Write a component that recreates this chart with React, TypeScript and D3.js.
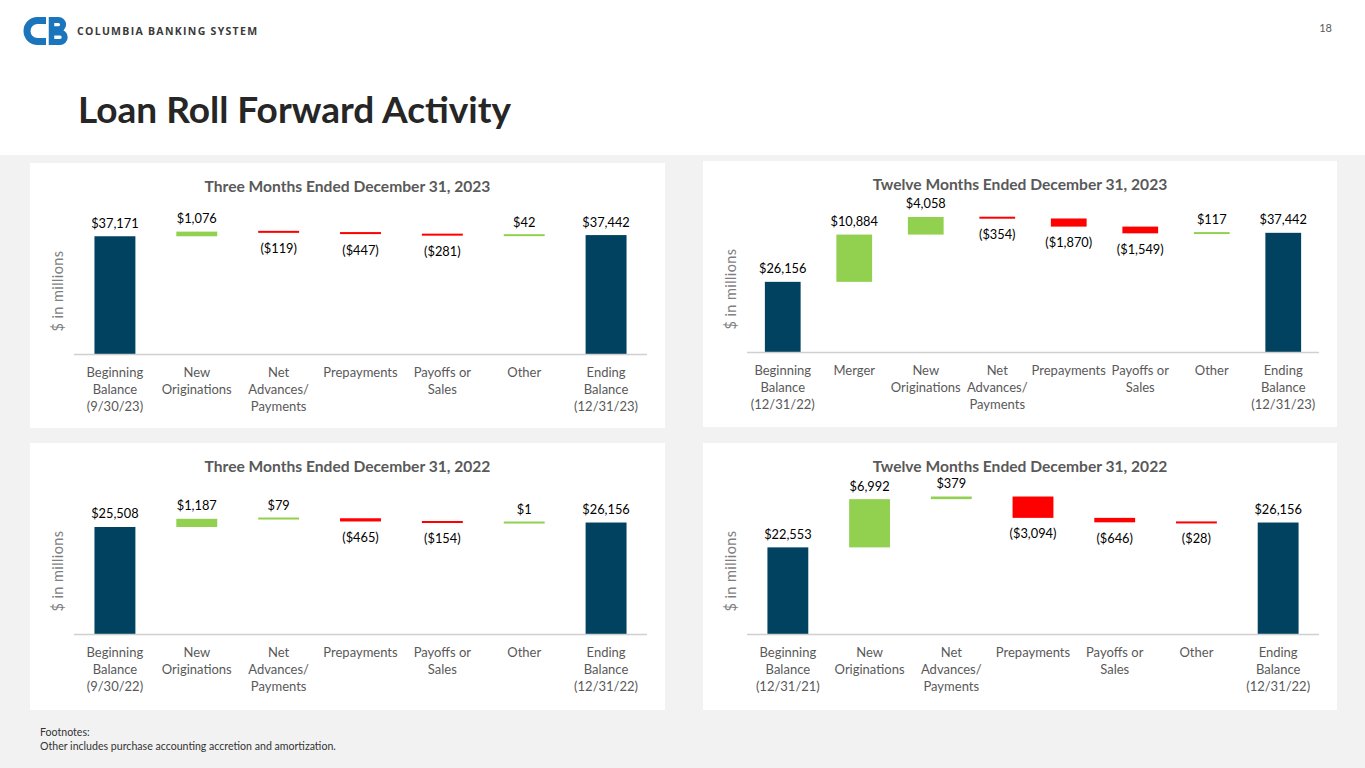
import React, { useEffect, useRef } from 'react';
import * as d3 from 'd3';

// ---- data (in $ millions) ----
const catsQ4_2023 = [
  ['Beginning', 'Balance', '(9/30/23)'],
  ['New', 'Originations'],
  ['Net', 'Advances/', 'Payments'],
  ['Prepayments'],
  ['Payoffs or', 'Sales'],
  ['Other'],
  ['Ending', 'Balance', '(12/31/23)'],
];
const valsQ4_2023 = [37171, 1076, -119, -447, -281, 42, 37442];

const catsFY_2023 = [
  ['Beginning', 'Balance', '(12/31/22)'],
  ['Merger'],
  ['New', 'Originations'],
  ['Net', 'Advances/', 'Payments'],
  ['Prepayments'],
  ['Payoffs or', 'Sales'],
  ['Other'],
  ['Ending', 'Balance', '(12/31/23)'],
];
const valsFY_2023 = [26156, 10884, 4058, -354, -1870, -1549, 117, 37442];

const catsQ4_2022 = [
  ['Beginning', 'Balance', '(9/30/22)'],
  ['New', 'Originations'],
  ['Net', 'Advances/', 'Payments'],
  ['Prepayments'],
  ['Payoffs or', 'Sales'],
  ['Other'],
  ['Ending', 'Balance', '(12/31/22)'],
];
const valsQ4_2022 = [25508, 1187, 79, -465, -154, 1, 26156];

const catsFY_2022 = [
  ['Beginning', 'Balance', '(12/31/21)'],
  ['New', 'Originations'],
  ['Net', 'Advances/', 'Payments'],
  ['Prepayments'],
  ['Payoffs or', 'Sales'],
  ['Other'],
  ['Ending', 'Balance', '(12/31/22)'],
];
const valsFY_2022 = [22553, 6992, 379, -3094, -646, -28, 26156];

const titles = [
  'Three Months Ended December 31, 2023',
  'Twelve Months Ended December 31, 2023',
  'Three Months Ended December 31, 2022',
  'Twelve Months Ended December 31, 2022',
];
const axisMin = [10000, 10000, 10000, 10000];
const axisMax = [40000, 45000, 30000, 30000];

// ---- layout ----
const FONT = 'Lato, "Open Sans", sans-serif';
const NAVY = '#00425f';
const GREEN = '#92d050';
const RED = '#ff0000';
const BLUE = '#1a75bc';

const panels = [
  { x: 30, y: 163, w: 635, h: 265, base: 354, top: 224, titleY: 187 },
  { x: 703, y: 161, w: 634, h: 266, base: 352, top: 200, titleY: 185 },
  { x: 30, y: 443, w: 635, h: 267, base: 634, top: 496, titleY: 467 },
  { x: 703, y: 443, w: 634, h: 267, base: 634, top: 496, titleY: 467 },
];

const charts = [
  { cats: catsQ4_2023, vals: valsQ4_2023 },
  { cats: catsFY_2023, vals: valsFY_2023 },
  { cats: catsQ4_2022, vals: valsQ4_2022 },
  { cats: catsFY_2022, vals: valsFY_2022 },
];

const fmt = d3.format(',');
const money = (v: number) => (v < 0 ? `($${fmt(-v)})` : `$${fmt(v)}`);

export default function App() {
  const svgRef = useRef<SVGSVGElement>(null);

  useEffect(() => {
    document.body.style.margin = '0';
    if (!svgRef.current) return;
    const svg = d3.select(svgRef.current);
    svg.selectAll('*').remove();

    // page backgrounds
    svg.append('rect').attr('width', 1365).attr('height', 768).attr('fill', '#f2f2f2');
    svg.append('rect').attr('width', 1365).attr('height', 155).attr('fill', '#ffffff');

    // logo: C + B marks
    const logo = svg.append('g').attr('fill', 'none').attr('stroke', BLUE);
    logo.append('path')
      .attr('d', 'M46,20.5 H37.5 A10.5,10.5 0 0 0 37.5,41.5 H46')
      .attr('stroke-width', 7);
    logo.append('path')
      .attr('d', 'M51.5,17 V45')
      .attr('stroke-width', 5.5);
    logo.append('path')
      .attr('d', 'M51,20 H58.5 A4.6,4.6 0 0 1 58.5,29.2 H51 M51,32.6 H60 A4.7,4.7 0 0 1 60,42 H51')
      .attr('stroke-width', 6);
    svg.append('text')
      .attr('x', 77).attr('y', 35)
      .attr('font-family', '"Open Sans", sans-serif')
      .attr('font-weight', 700).attr('font-size', 10.5)
      .attr('letter-spacing', 1.3)
      .attr('fill', '#3a3a3a')
      .text('COLUMBIA BANKING SYSTEM');

    svg.append('text')
      .attr('x', 1332).attr('y', 32).attr('text-anchor', 'end')
      .attr('font-family', FONT).attr('font-size', 11).attr('fill', '#595959')
      .text('18');

    svg.append('text')
      .attr('x', 78).attr('y', 123)
      .attr('font-family', FONT).attr('font-weight', 700).attr('font-size', 37)
      .attr('fill', '#262626')
      .text('Loan Roll Forward Activity');

    charts.forEach((c, i) => {
      const p = panels[i];
      const g = svg.append('g');
      g.append('rect').attr('x', p.x).attr('y', p.y).attr('width', p.w).attr('height', p.h).attr('fill', '#ffffff');

      g.append('text')
        .attr('x', p.x + p.w / 2).attr('y', p.titleY).attr('dy', '0.35em')
        .attr('text-anchor', 'middle')
        .attr('font-family', FONT).attr('font-weight', 700).attr('font-size', 15.6)
        .attr('fill', '#595959')
        .text(titles[i]);

      const x = d3.scaleBand<number>()
        .domain(d3.range(c.vals.length))
        .range([p.x + 44, p.x + p.w - 18])
        .paddingInner(0.5)
        .paddingOuter(0.25);
      const y = d3.scaleLinear().domain([axisMin[i], axisMax[i]]).range([p.base, p.top]);

      // y axis title
      g.append('text')
        .attr('transform', `translate(${p.x + 28},${p.y + 128}) rotate(-90)`)
        .attr('text-anchor', 'middle').attr('dy', '0.35em')
        .attr('font-family', FONT).attr('font-size', 14.5).attr('letter-spacing', 0.4)
        .attr('fill', '#7f7f7f')
        .text('$ in millions');

      // waterfall segments
      let run = 0;
      const n = c.vals.length;
      const segs = c.vals.map((v, k) => {
        let s: number, e: number, color: string;
        if (k === 0 || k === n - 1) {
          s = axisMin[i]; e = v; color = NAVY; run = v;
        } else {
          s = run; e = run + v; run = e; color = v >= 0 ? GREEN : RED;
        }
        return { k, v, s, e, color };
      });

      g.selectAll('rect.bar')
        .data(segs)
        .join('rect')
        .attr('class', 'bar')
        .attr('x', d => x(d.k)!)
        .attr('width', x.bandwidth())
        .attr('y', d => {
          const top = y(Math.max(d.s, d.e));
          const hgt = Math.abs(y(d.s) - y(d.e));
          return hgt < 2 ? (y(d.s) + y(d.e)) / 2 - 1 : top;
        })
        .attr('height', d => Math.max(2, Math.abs(y(d.s) - y(d.e))))
        .attr('fill', d => d.color);

      g.selectAll('text.val')
        .data(segs)
        .join('text')
        .attr('class', 'val')
        .attr('x', d => x(d.k)! + x.bandwidth() / 2)
        .attr('y', d => (d.v < 0 ? y(Math.min(d.s, d.e)) + 16 : y(Math.max(d.s, d.e)) - 13))
        .attr('dy', '0.35em')
        .attr('text-anchor', 'middle')
        .attr('font-family', FONT).attr('font-size', 12.8).attr('fill', '#000000')
        .text(d => money(d.v));

      // baseline
      g.append('line')
        .attr('x1', x.range()[0]).attr('x2', x.range()[1])
        .attr('y1', p.base + 0.5).attr('y2', p.base + 0.5)
        .attr('stroke', '#d0d0d0').attr('stroke-width', 1.5);

      // category labels
      const cl = g.selectAll('text.cat')
        .data(c.cats)
        .join('text')
        .attr('class', 'cat')
        .attr('text-anchor', 'middle')
        .attr('font-family', FONT).attr('font-size', 13).attr('fill', '#595959');
      cl.each(function (lines, k) {
        const t = d3.select(this);
        lines.forEach((ln, j) => {
          t.append('tspan')
            .attr('x', x(k)! + x.bandwidth() / 2)
            .attr('y', p.base + 18 + j * 17)
            .attr('dy', '0.35em')
            .text(ln);
        });
      });
    });

    svg.append('text')
      .attr('x', 40).attr('y', 736)
      .attr('font-family', FONT).attr('font-size', 10.6).attr('fill', '#333333')
      .text('Footnotes:');
    svg.append('text')
      .attr('x', 40).attr('y', 749.5)
      .attr('font-family', FONT).attr('font-size', 10.6).attr('fill', '#333333')
      .text('Other includes purchase accounting accretion and amortization.');
  }, []);

  return (
    <div style={{ position: 'absolute', left: 0, top: 0 }}>
      <svg ref={svgRef} width={1365} height={768} style={{ display: 'block' }} />
    </div>
  );
}
